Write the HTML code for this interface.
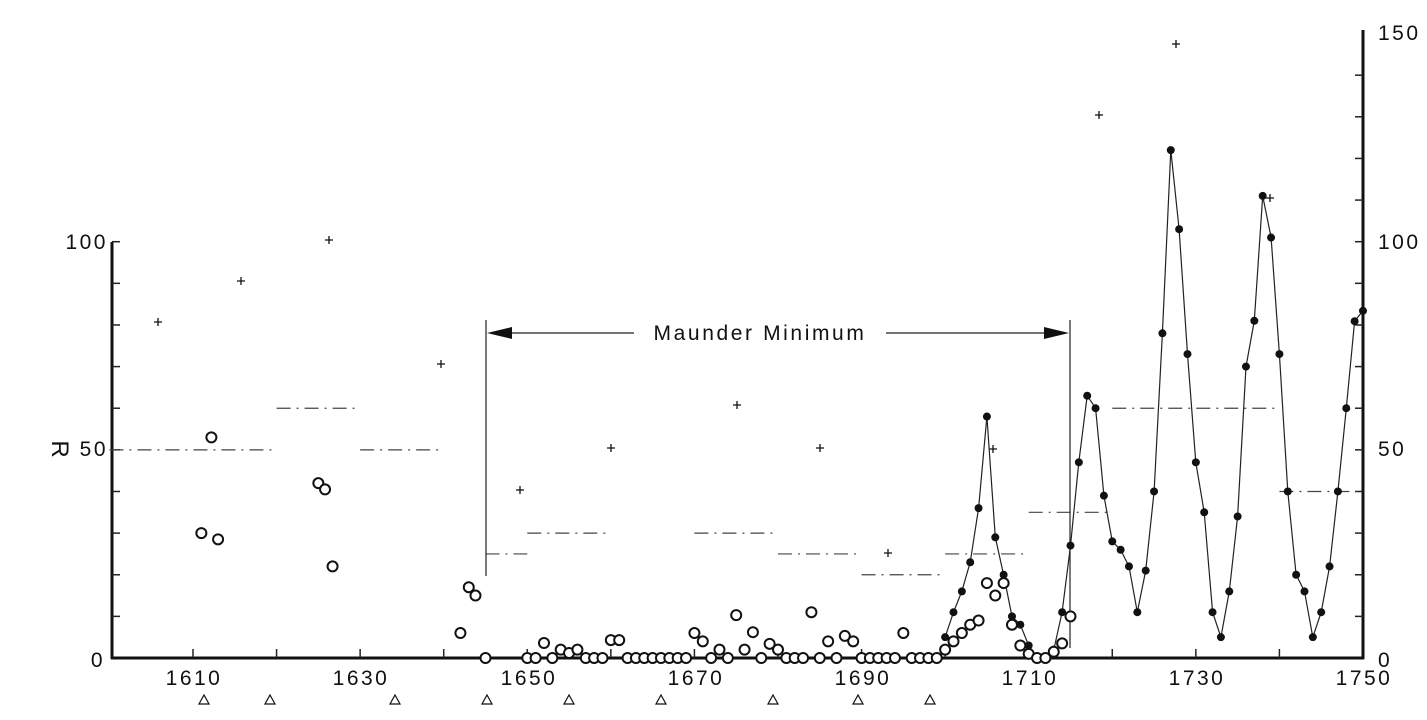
<!DOCTYPE html>
<html><head><meta charset="utf-8"><style>
html,body{margin:0;padding:0;background:#fff;}
svg{display:block;}
text{font-family:"Liberation Sans",sans-serif;fill:#111;}
</style></head><body>
<svg id="s" width="1427" height="720" viewBox="0 0 1427 720" xmlns="http://www.w3.org/2000/svg">
<g stroke="#111" fill="none">
<line x1="112" y1="242" x2="112" y2="659" stroke-width="3"/>
<line x1="1363" y1="30" x2="1363" y2="659" stroke-width="3"/>
<line x1="111" y1="658" x2="1364" y2="658" stroke-width="3"/>
</g>
<g id="ticks" stroke="#222" stroke-width="1.5"></g>
<g id="dash" stroke="#444" stroke-width="1.2" stroke-dasharray="14,6,2,6"></g>
<g stroke="#222" stroke-width="1.2" fill="none">
<line x1="486" y1="320" x2="486" y2="576"/>
<line x1="1070" y1="320" x2="1070" y2="648"/>
<line x1="500" y1="333" x2="634" y2="333"/>
<line x1="886" y1="333" x2="1056" y2="333"/>
</g>
<polygon points="487,333 512,327 512,339" fill="#111"/>
<polygon points="1069,333 1044,327 1044,339" fill="#111"/>
<text x="760" y="340" font-size="21" text-anchor="middle" letter-spacing="2.6">Maunder Minimum</text>
<text transform="translate(60,449) rotate(90)" font-size="24" text-anchor="middle" dy="8">R</text>
<g font-size="21" letter-spacing="2.5">
<text x="108" y="249" text-anchor="end">100</text>
<text x="108" y="456" text-anchor="end">50</text>
<text x="105" y="667" text-anchor="end">0</text>
<text x="1378" y="40">150</text>
<text x="1378" y="249">100</text>
<text x="1378" y="456">50</text>
<text x="1378" y="667">0</text>
<text x="194" y="685" text-anchor="middle">1610</text>
<text x="361" y="685" text-anchor="middle">1630</text>
<text x="529" y="685" text-anchor="middle">1650</text>
<text x="696" y="685" text-anchor="middle">1670</text>
<text x="863" y="685" text-anchor="middle">1690</text>
<text x="1030" y="685" text-anchor="middle">1710</text>
<text x="1197" y="685" text-anchor="middle">1730</text>
<text x="1364" y="685" text-anchor="middle">1750</text>
</g>
<g id="data"></g>
</svg>
<script>
var NS="http://www.w3.org/2000/svg";
function X(yr){return 193+(yr-1610)*8.357;}
function Y(v){return 658-v*4.163;}
function el(p,t,a){var e=document.createElementNS(NS,t);for(var k in a)e.setAttribute(k,a[k]);document.getElementById(p).appendChild(e);return e;}
for(var yr=1610;yr<1750;yr+=10){el("ticks","line",{x1:X(yr),y1:658,x2:X(yr),y2:649});}
for(var v=10;v<=100;v+=10){el("ticks","line",{x1:112,y1:Y(v),x2:120,y2:Y(v)});}
for(var v=10;v<150;v+=10){el("ticks","line",{x1:1363,y1:Y(v),x2:1355,y2:Y(v)});}
var d=[[1600,1620,50],[1620,1630,60],[1630,1640,50],[1645,1650,25],[1650,1660,30],[1670,1680,30],[1680,1690,25],[1690,1700,20],[1700,1710,25],[1710,1720,35],[1720,1740,60],[1740,1750,40]];
d.forEach(function(a){el("dash","line",{x1:X(a[0]),y1:Y(a[2]),x2:X(a[1]),y2:Y(a[2])});});
var f=[5,11,16,23,36,58,29,20,10,8,3,0,0,2,11,27,47,63,60,39,28,26,22,11,21,40,78,122,103,73,47,35,11,5,16,34,70,81,111,101,73,40,20,16,5,11,22,40,60,80.9,83.4];
var pts=f.map(function(v,i){return X(1700+i).toFixed(1)+","+Y(v).toFixed(1);}).join(" ");
el("data","polyline",{points:pts,fill:"none",stroke:"#222","stroke-width":1.2});
f.forEach(function(v,i){el("data","circle",{cx:X(1700+i),cy:Y(v),r:4,fill:"#111"});});
var o=[[1611,30],[1612.2,53],[1613,28.5],[1625,42],[1625.8,40.5],[1626.7,22],[1642,6],[1643,17],[1643.8,15],[1645,0]];
var up={1652:3.6,1653:0,1654:2,1655:1.2,1656:2,1660:4.3,1661:4.3,1670:6,1671:4,1673:2,1675:10.3,1676:2,1677:6.2,1679:3.4,1680:2,1684:11,1686:4,1688:5.3,1689:4,1695:6};
for(var yr=1650;yr<=1699;yr++){o.push([yr,up[yr]||0]);}
[[1700,2],[1701,4],[1702,6],[1703,8],[1704,9],[1705,18],[1706,15],[1707,18],[1708,8],[1709,3],[1710,1],[1711,0],[1712,0],[1713,1.5],[1714,3.5],[1715,10]].forEach(function(a){o.push(a);});
o.forEach(function(a){el("data","circle",{cx:X(a[0]),cy:Y(a[1]),r:5,fill:"#fff",stroke:"#111","stroke-width":2});});
var p=[[158,322],[241,281],[329,240],[441,364],[520,490],[611,448],[737,405],[820,448],[888,553],[993,449],[1099,115],[1176,44],[1270,198]];
p.forEach(function(a){el("data","path",{d:"M"+(a[0]-4)+","+a[1]+"h8M"+a[0]+","+(a[1]-4)+"v8",stroke:"#111","stroke-width":1.3,fill:"none"});});
[204,270,395,487,569,661,773,858,930].forEach(function(x){el("data","polygon",{points:(x-5)+",704 "+(x+5)+",704 "+x+",695",fill:"none",stroke:"#111","stroke-width":1.2});});
</script>
</body></html>
